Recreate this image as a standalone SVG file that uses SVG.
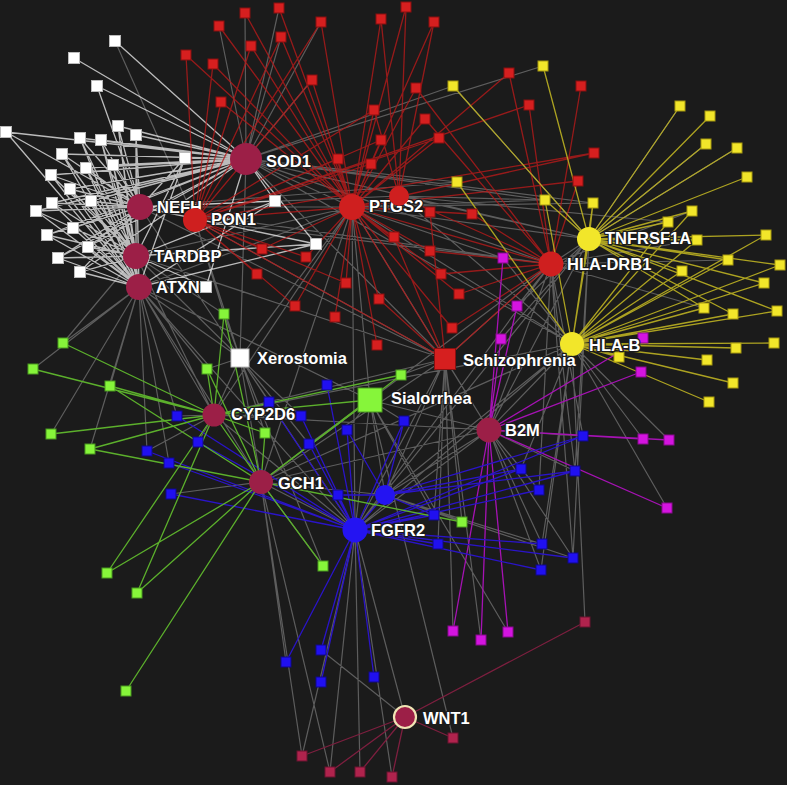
<svg xmlns="http://www.w3.org/2000/svg" xmlns:xlink="http://www.w3.org/1999/xlink" width="787" height="785" viewBox="0 0 787 785">
<style>
.e{fill:none;stroke-width:1.3}
.ew{stroke:#ffffff;stroke-opacity:0.7}
.er{stroke:#b51a1a;stroke-opacity:0.8}
.ey{stroke:#bdb122;stroke-opacity:0.9}
.em{stroke:#a612b4}
.eb{stroke:#2a14c8}
.eg{stroke:#5cb02c}
.ek{stroke:#7d1f3f}
.egr{stroke:#a0a0a0;stroke-opacity:0.5;stroke-width:1.2}
.hc{fill:#9c1f47}
.hr{fill:#cf1f1f}
.hy{fill:#f2e62a}
.hb{fill:#2414f2}
.lb{font-family:"Liberation Sans",Arial,sans-serif;font-weight:bold;font-size:16.5px;fill:#ffffff;stroke:#1b1b1b;stroke-width:2.5px;paint-order:stroke;stroke-linejoin:round}
</style>
<defs>
<rect id="sw" x="-5.5" y="-5.5" width="11" height="11" fill="#ffffff" stroke="#bbbbbb" stroke-width="1"/>
<rect id="sr" x="-5" y="-5" width="10" height="10" fill="#d61f1f" stroke="#8a1010" stroke-width="1"/>
<rect id="sy" x="-5" y="-5" width="10" height="10" fill="#f2e62a" stroke="#a89a10" stroke-width="1"/>
<rect id="sm" x="-5" y="-5" width="10" height="10" fill="#d414e0" stroke="#8a0a90" stroke-width="1"/>
<rect id="sb" x="-5" y="-5" width="10" height="10" fill="#2010f0" stroke="#10088a" stroke-width="1"/>
<rect id="sg" x="-5" y="-5" width="10" height="10" fill="#86f53a" stroke="#4a9a20" stroke-width="1"/>
<rect id="sk" x="-5" y="-5" width="10" height="10" fill="#b0234d" stroke="#6a1530" stroke-width="1"/>
</defs>
<rect x="0" y="0" width="787" height="785" fill="#1b1b1b"/>
<g id="connectors">
<path class="e egr" d="M246 159L352 207M246 159L551 264M246 159L589 239M246 159L240 358M246 159L445 359M246 159L453 86M246 159L457 182M246 159L543 66M246 159L245 13M246 159L279 8M246 159L219 26M246 159L321 22M246 159L281 37M246 159L312 80M246 159L572 344M246 159L593 203M246 159L545 200
M140 207L352 207M140 207L240 358M140 207L551 264M140 207L445 359M140 207L457 182M140 207L399 196M115 41L195 220
M136 256L240 358M136 256L445 359M136 256L352 207M136 256L214 415M136 256L63 343M136 256L224 314
M139 287L240 358M139 287L214 415M139 287L261 482M139 287L355 530M139 287L63 343M139 287L110 386M139 287L51 434M139 287L90 449M139 287L33 369M139 287L177 416M139 287L147 451M139 287L169 463M139 287L370 400M139 287L207 369M139 287L352 207
M195 220L240 358M195 220L445 359M195 220L551 264M195 220L224 314
M352 207L572 344M352 207L489 430M352 207L355 530M352 207L261 482M352 207L214 415M352 207L370 400M352 207L240 358M352 207L589 239M352 207L593 203M352 207L545 200M352 207L503 258
M399 196L572 344M399 196L589 239M399 196L545 200M399 196L668 222
M551 264L489 430M551 264L355 530M551 264L370 400M551 264L261 482M551 264L445 359M551 264L503 258M551 264L517 306M551 264L583 436M551 264L575 471M551 264L539 490M551 264L573 558M551 264L692 211M551 264L697 240M551 264L704 308M551 264L728 260
M572 344L489 430M572 344L355 530M572 344L385 495M572 344L214 415M572 344L261 482M572 344L643 439M572 344L669 440M572 344L667 508M572 344L585 622M572 344L542 544M572 344L541 570M572 344L521 469M572 344L503 258
M589 239L489 430M589 239L355 530M589 239L453 86M589 239L680 106M589 239L706 144M589 239L737 148M589 239L501 339M589 239L517 306M589 239L575 471M589 239L573 558M589 239L551 264
M240 358L214 415M240 358L261 482M240 358L355 530M240 358L224 314M240 358L207 369M240 358L265 433M240 358L301 416M240 358L309 444M240 358L269 402M240 358L323 566
M445 359L489 430M445 359L355 530M445 359L261 482M445 359L214 415M445 359L385 495M445 359L401 375M445 359L434 515M445 359L438 544M445 359L462 522M445 359L453 631M445 359L481 640
M370 400L261 482M370 400L489 430M370 400L355 530M370 400L385 495M370 400L347 430M370 400L404 421M370 400L309 444M370 400L434 515M370 400L508 632M370 400L453 738
M489 430L355 530M489 430L261 482M489 430L214 415M489 430L385 495M489 430L583 436M489 430L575 471M489 430L539 490M489 430L541 570M489 430L573 558M489 430L542 544
M214 415L355 530M214 415L177 416M214 415L198 442M214 415L147 451M214 415L269 402M214 415L301 416
M261 482L355 530M261 482L385 495M261 482L302 756M261 482L330 772M261 482L323 566M261 482L171 494M261 482L286 662
M355 530L405 717M355 530L302 756M355 530L330 772M355 530L360 772M355 530L392 777M321 650L405 717
M385 495L462 522M385 495L542 544M385 495L573 558"/>
<path class="e ew" d="M115 41L246 159M74 58L246 159M97 86L246 159M6 132L246 159M118 126L246 159M136 135L246 159M80 138L246 159M101 140L246 159M62 154L246 159M185 158L246 159M113 165L246 159M86 168L246 159M51 175L246 159M70 189L246 159M36 211L246 159M52 203L246 159M91 201L246 159M73 228L246 159M47 235L246 159M88 247L246 159M58 258L246 159M80 272L246 159M275 201L246 159M316 244L246 159M206 287L246 159
M97 86L140 207M6 132L140 207M118 126L140 207M136 135L140 207M80 138L140 207M101 140L140 207M62 154L140 207M185 158L140 207M113 165L140 207M86 168L140 207M51 175L140 207M70 189L140 207M36 211L140 207M52 203L140 207M91 201L140 207M73 228L140 207M47 235L140 207M88 247L140 207M58 258L140 207M80 272L140 207M275 201L140 207M316 244L140 207
M118 126L136 256M136 135L136 256M80 138L136 256M101 140L136 256M62 154L136 256M185 158L136 256M113 165L136 256M86 168L136 256M51 175L136 256M70 189L136 256M36 211L136 256M52 203L136 256M91 201L136 256M73 228L136 256M47 235L136 256M88 247L136 256M58 258L136 256M80 272L136 256M275 201L136 256M316 244L136 256M206 287L136 256
M6 132L139 287M118 126L139 287M136 135L139 287M80 138L139 287M101 140L139 287M62 154L139 287M185 158L139 287M113 165L139 287M86 168L139 287M51 175L139 287M70 189L139 287M36 211L139 287M52 203L139 287M91 201L139 287M73 228L139 287M47 235L139 287M88 247L139 287M58 258L139 287M80 272L139 287M275 201L139 287M316 244L139 287"/>
<path class="e er" d="M245 13L352 207M219 26L352 207M251 46L352 207M251 46L195 220M186 55L195 220M186 55L352 207M213 64L195 220M213 64L352 207M221 102L195 220M221 102L352 207M279 8L352 207M321 22L352 207M321 22L195 220M381 19L352 207M381 19L399 196M406 7L352 207M406 7L399 196M434 22L352 207M434 22L399 196M281 37L352 207M281 37L195 220M312 80L352 207M312 80L195 220M509 73L551 264M509 73L352 207M416 88L352 207M416 88L551 264M374 110L352 207M374 110L195 220M374 110L399 196M425 119L352 207M425 119L551 264M381 140L352 207M381 140L195 220M439 138L352 207M439 138L195 220M338 159L195 220M338 159L352 207M371 164L352 207M371 164L195 220M529 105L551 264M529 105L195 220M581 86L551 264M594 153L352 207M594 153L195 220M578 181L352 207M578 181L551 264M430 212L352 207M430 212L445 359M472 214L352 207M472 214L551 264M394 237L352 207M394 237L445 359M430 251L352 207M430 251L551 264M306 257L352 207M306 257L195 220M441 274L352 207M441 274L551 264M346 283L352 207M346 283L195 220M459 294L352 207M459 294L551 264M379 299L352 207M379 299L445 359M295 306L352 207M295 306L195 220M335 317L352 207M452 328L352 207M452 328L551 264M377 345L352 207M262 249L195 220M262 249L352 207M257 274L195 220M445 359L352 207M445 359L551 264M445 359L195 220M195 220L352 207M399 196L551 264M352 207L551 264"/>
<path class="e ey" d="M453 86L589 239M543 66L589 239M593 203L589 239M545 200L589 239M680 106L589 239M710 116L589 239M706 144L589 239M737 148L589 239M747 177L589 239M692 211L589 239M668 222L589 239M697 240L589 239M766 235L589 239M728 260L589 239M682 271L589 239M780 265L589 239M764 283L589 239M704 308L589 239M733 314L589 239M777 311L589 239
M545 200L572 344M593 203L572 344M692 211L572 344M668 222L572 344M697 240L572 344M728 260L572 344M682 271L572 344M766 235L572 344M780 265L572 344M764 283L572 344M704 308L572 344M733 314L572 344M777 311L572 344M774 343L572 344M736 348L572 344M707 360L572 344M733 383L572 344M619 357L572 344M709 402L572 344M457 182L572 344M589 239L572 344"/>
<path class="e em" d="M503 258L489 430M517 306L489 430M501 339L489 430M643 338L489 430M641 372L489 430M643 439L489 430M669 440L489 430M667 508L489 430M453 631L489 430M481 640L489 430M508 632L489 430"/>
<path class="e eb" d="M177 416L355 530M147 451L355 530M198 442L355 530M169 463L355 530M171 494L355 530M269 402L355 530M301 416L355 530M347 430L355 530M404 421L355 530M309 444L355 530M338 495L355 530M434 515L355 530M438 544L355 530M327 385L355 530M583 436L355 530M575 471L355 530M539 490L355 530M542 544L355 530M573 558L355 530M541 570L355 530M521 469L355 530M286 662L355 530M321 650L355 530M321 682L355 530M374 677L355 530M385 495L355 530
M404 421L385 495M583 436L385 495M521 469L385 495M434 515L385 495M338 495L385 495M575 471L385 495M347 430L385 495"/>
<path class="e eg" d="M224 314L214 415M63 343L214 415M33 369L214 415M110 386L214 415M207 369L214 415M401 375L214 415M51 434L214 415M90 449L214 415M265 433L214 415M107 573L214 415M137 593L214 415M370 400L214 415
M224 314L261 482M207 369L261 482M90 449L261 482M265 433L261 482M107 573L261 482M137 593L261 482M126 691L261 482M323 566L261 482M462 522L261 482M370 400L261 482M110 386L261 482M401 375L261 482M214 415L261 482"/>
<path class="e ek" d="M302 756L405 717M330 772L405 717M360 772L405 717M392 777L405 717M453 738L405 717M585 622L405 717"/>
</g>
<g id="small-nodes">
<g id="w1"><use xlink:href="#sw" x="115" y="41"/></g>
<g id="w2"><use xlink:href="#sw" x="74" y="58"/></g>
<g id="w3"><use xlink:href="#sw" x="97" y="86"/></g>
<g id="w4"><use xlink:href="#sw" x="6" y="132"/></g>
<g id="w5"><use xlink:href="#sw" x="118" y="126"/></g>
<g id="w6"><use xlink:href="#sw" x="136" y="135"/></g>
<g id="w7"><use xlink:href="#sw" x="80" y="138"/></g>
<g id="w8"><use xlink:href="#sw" x="101" y="140"/></g>
<g id="w9"><use xlink:href="#sw" x="62" y="154"/></g>
<g id="w10"><use xlink:href="#sw" x="185" y="158"/></g>
<g id="w11"><use xlink:href="#sw" x="113" y="165"/></g>
<g id="w12"><use xlink:href="#sw" x="86" y="168"/></g>
<g id="w13"><use xlink:href="#sw" x="51" y="175"/></g>
<g id="w14"><use xlink:href="#sw" x="70" y="189"/></g>
<g id="w15"><use xlink:href="#sw" x="36" y="211"/></g>
<g id="w16"><use xlink:href="#sw" x="52" y="203"/></g>
<g id="w17"><use xlink:href="#sw" x="91" y="201"/></g>
<g id="w18"><use xlink:href="#sw" x="73" y="228"/></g>
<g id="w19"><use xlink:href="#sw" x="47" y="235"/></g>
<g id="w20"><use xlink:href="#sw" x="88" y="247"/></g>
<g id="w21"><use xlink:href="#sw" x="58" y="258"/></g>
<g id="w22"><use xlink:href="#sw" x="80" y="272"/></g>
<g id="w23"><use xlink:href="#sw" x="275" y="201"/></g>
<g id="w24"><use xlink:href="#sw" x="316" y="244"/></g>
<g id="w25"><use xlink:href="#sw" x="206" y="287"/></g>
<g id="r1"><use xlink:href="#sr" x="245" y="13"/></g>
<g id="r2"><use xlink:href="#sr" x="219" y="26"/></g>
<g id="r3"><use xlink:href="#sr" x="251" y="46"/></g>
<g id="r4"><use xlink:href="#sr" x="186" y="55"/></g>
<g id="r5"><use xlink:href="#sr" x="213" y="64"/></g>
<g id="r6"><use xlink:href="#sr" x="221" y="102"/></g>
<g id="r7"><use xlink:href="#sr" x="279" y="8"/></g>
<g id="r8"><use xlink:href="#sr" x="321" y="22"/></g>
<g id="r9"><use xlink:href="#sr" x="381" y="19"/></g>
<g id="r10"><use xlink:href="#sr" x="406" y="7"/></g>
<g id="r11"><use xlink:href="#sr" x="434" y="22"/></g>
<g id="r12"><use xlink:href="#sr" x="281" y="37"/></g>
<g id="r13"><use xlink:href="#sr" x="312" y="80"/></g>
<g id="r14"><use xlink:href="#sr" x="509" y="73"/></g>
<g id="r15"><use xlink:href="#sr" x="416" y="88"/></g>
<g id="r16"><use xlink:href="#sr" x="374" y="110"/></g>
<g id="r17"><use xlink:href="#sr" x="425" y="119"/></g>
<g id="r18"><use xlink:href="#sr" x="381" y="140"/></g>
<g id="r19"><use xlink:href="#sr" x="439" y="138"/></g>
<g id="r20"><use xlink:href="#sr" x="338" y="159"/></g>
<g id="r21"><use xlink:href="#sr" x="371" y="164"/></g>
<g id="r22"><use xlink:href="#sr" x="529" y="105"/></g>
<g id="r23"><use xlink:href="#sr" x="581" y="86"/></g>
<g id="r24"><use xlink:href="#sr" x="594" y="153"/></g>
<g id="r25"><use xlink:href="#sr" x="578" y="181"/></g>
<g id="r26"><use xlink:href="#sr" x="430" y="212"/></g>
<g id="r27"><use xlink:href="#sr" x="472" y="214"/></g>
<g id="r28"><use xlink:href="#sr" x="394" y="237"/></g>
<g id="r29"><use xlink:href="#sr" x="430" y="251"/></g>
<g id="r30"><use xlink:href="#sr" x="306" y="257"/></g>
<g id="r31"><use xlink:href="#sr" x="441" y="274"/></g>
<g id="r32"><use xlink:href="#sr" x="346" y="283"/></g>
<g id="r33"><use xlink:href="#sr" x="459" y="294"/></g>
<g id="r34"><use xlink:href="#sr" x="379" y="299"/></g>
<g id="r35"><use xlink:href="#sr" x="295" y="306"/></g>
<g id="r36"><use xlink:href="#sr" x="335" y="317"/></g>
<g id="r37"><use xlink:href="#sr" x="452" y="328"/></g>
<g id="r38"><use xlink:href="#sr" x="377" y="345"/></g>
<g id="r39"><use xlink:href="#sr" x="262" y="249"/></g>
<g id="r40"><use xlink:href="#sr" x="257" y="274"/></g>
<g id="y1"><use xlink:href="#sy" x="453" y="86"/></g>
<g id="y2"><use xlink:href="#sy" x="457" y="182"/></g>
<g id="y3"><use xlink:href="#sy" x="543" y="66"/></g>
<g id="y4"><use xlink:href="#sy" x="680" y="106"/></g>
<g id="y5"><use xlink:href="#sy" x="710" y="116"/></g>
<g id="y6"><use xlink:href="#sy" x="706" y="144"/></g>
<g id="y7"><use xlink:href="#sy" x="737" y="148"/></g>
<g id="y8"><use xlink:href="#sy" x="747" y="177"/></g>
<g id="y9"><use xlink:href="#sy" x="545" y="200"/></g>
<g id="y10"><use xlink:href="#sy" x="593" y="203"/></g>
<g id="y11"><use xlink:href="#sy" x="692" y="211"/></g>
<g id="y12"><use xlink:href="#sy" x="668" y="222"/></g>
<g id="y13"><use xlink:href="#sy" x="697" y="240"/></g>
<g id="y14"><use xlink:href="#sy" x="766" y="235"/></g>
<g id="y15"><use xlink:href="#sy" x="728" y="260"/></g>
<g id="y16"><use xlink:href="#sy" x="682" y="271"/></g>
<g id="y17"><use xlink:href="#sy" x="780" y="265"/></g>
<g id="y18"><use xlink:href="#sy" x="764" y="283"/></g>
<g id="y19"><use xlink:href="#sy" x="704" y="308"/></g>
<g id="y20"><use xlink:href="#sy" x="733" y="314"/></g>
<g id="y21"><use xlink:href="#sy" x="777" y="311"/></g>
<g id="y22"><use xlink:href="#sy" x="774" y="343"/></g>
<g id="y23"><use xlink:href="#sy" x="736" y="348"/></g>
<g id="y24"><use xlink:href="#sy" x="707" y="360"/></g>
<g id="y25"><use xlink:href="#sy" x="733" y="383"/></g>
<g id="y26"><use xlink:href="#sy" x="619" y="357"/></g>
<g id="y27"><use xlink:href="#sy" x="709" y="402"/></g>
<g id="m1"><use xlink:href="#sm" x="503" y="258"/></g>
<g id="m2"><use xlink:href="#sm" x="517" y="306"/></g>
<g id="m3"><use xlink:href="#sm" x="501" y="339"/></g>
<g id="m4"><use xlink:href="#sm" x="643" y="338"/></g>
<g id="m5"><use xlink:href="#sm" x="641" y="372"/></g>
<g id="m6"><use xlink:href="#sm" x="643" y="439"/></g>
<g id="m7"><use xlink:href="#sm" x="669" y="440"/></g>
<g id="m8"><use xlink:href="#sm" x="667" y="508"/></g>
<g id="m9"><use xlink:href="#sm" x="453" y="631"/></g>
<g id="m10"><use xlink:href="#sm" x="481" y="640"/></g>
<g id="m11"><use xlink:href="#sm" x="508" y="632"/></g>
<g id="b1"><use xlink:href="#sb" x="177" y="416"/></g>
<g id="b2"><use xlink:href="#sb" x="147" y="451"/></g>
<g id="b3"><use xlink:href="#sb" x="198" y="442"/></g>
<g id="b4"><use xlink:href="#sb" x="169" y="463"/></g>
<g id="b5"><use xlink:href="#sb" x="171" y="494"/></g>
<g id="b6"><use xlink:href="#sb" x="269" y="402"/></g>
<g id="b7"><use xlink:href="#sb" x="301" y="416"/></g>
<g id="b8"><use xlink:href="#sb" x="347" y="430"/></g>
<g id="b9"><use xlink:href="#sb" x="404" y="421"/></g>
<g id="b10"><use xlink:href="#sb" x="309" y="444"/></g>
<g id="b11"><use xlink:href="#sb" x="338" y="495"/></g>
<g id="b12"><use xlink:href="#sb" x="434" y="515"/></g>
<g id="b13"><use xlink:href="#sb" x="438" y="544"/></g>
<g id="b14"><use xlink:href="#sb" x="327" y="385"/></g>
<g id="b15"><use xlink:href="#sb" x="583" y="436"/></g>
<g id="b16"><use xlink:href="#sb" x="575" y="471"/></g>
<g id="b17"><use xlink:href="#sb" x="539" y="490"/></g>
<g id="b18"><use xlink:href="#sb" x="542" y="544"/></g>
<g id="b19"><use xlink:href="#sb" x="573" y="558"/></g>
<g id="b20"><use xlink:href="#sb" x="541" y="570"/></g>
<g id="b21"><use xlink:href="#sb" x="521" y="469"/></g>
<g id="b22"><use xlink:href="#sb" x="286" y="662"/></g>
<g id="b23"><use xlink:href="#sb" x="321" y="650"/></g>
<g id="b24"><use xlink:href="#sb" x="321" y="682"/></g>
<g id="b25"><use xlink:href="#sb" x="374" y="677"/></g>
<g id="g1"><use xlink:href="#sg" x="224" y="314"/></g>
<g id="g2"><use xlink:href="#sg" x="63" y="343"/></g>
<g id="g3"><use xlink:href="#sg" x="33" y="369"/></g>
<g id="g4"><use xlink:href="#sg" x="110" y="386"/></g>
<g id="g5"><use xlink:href="#sg" x="207" y="369"/></g>
<g id="g6"><use xlink:href="#sg" x="401" y="375"/></g>
<g id="g7"><use xlink:href="#sg" x="51" y="434"/></g>
<g id="g8"><use xlink:href="#sg" x="90" y="449"/></g>
<g id="g9"><use xlink:href="#sg" x="265" y="433"/></g>
<g id="g10"><use xlink:href="#sg" x="107" y="573"/></g>
<g id="g11"><use xlink:href="#sg" x="462" y="522"/></g>
<g id="g12"><use xlink:href="#sg" x="323" y="566"/></g>
<g id="g13"><use xlink:href="#sg" x="137" y="593"/></g>
<g id="g14"><use xlink:href="#sg" x="126" y="691"/></g>
<g id="k1"><use xlink:href="#sk" x="302" y="756"/></g>
<g id="k2"><use xlink:href="#sk" x="330" y="772"/></g>
<g id="k3"><use xlink:href="#sk" x="360" y="772"/></g>
<g id="k4"><use xlink:href="#sk" x="392" y="777"/></g>
<g id="k5"><use xlink:href="#sk" x="453" y="738"/></g>
<g id="k6"><use xlink:href="#sk" x="585" y="622"/></g>
</g>
<g id="SOD1"><circle class="hc" cx="246" cy="159" r="16"/><text class="lb" x="266" y="167">SOD1</text></g>
<g id="NEFH"><circle class="hc" cx="140" cy="207" r="13"/><text class="lb" x="157" y="213">NEFH</text></g>
<g id="PON1"><circle class="hr" cx="195" cy="220" r="12"/><text class="lb" x="211" y="225">PON1</text></g>
<g id="PTGS2"><circle class="hr" cx="352" cy="207" r="13"/><text class="lb" x="369" y="212">PTGS2</text></g>
<g id="red-hub"><circle class="hr" cx="399" cy="196" r="10"/></g>
<g id="TARDBP"><circle class="hc" cx="136" cy="256" r="13"/><text class="lb" x="154" y="262">TARDBP</text></g>
<g id="ATXN"><circle class="hc" cx="139" cy="287" r="13"/><text class="lb" x="156" y="293">ATXN</text></g>
<g id="TNFRSF1A"><circle class="hy" cx="589" cy="239" r="12"/><text class="lb" x="605" y="244">TNFRSF1A</text></g>
<g id="HLA-DRB1"><circle class="hr" cx="551" cy="264" r="12.5"/><text class="lb" x="567" y="270">HLA-DRB1</text></g>
<g id="HLA-B"><circle class="hy" cx="572" cy="344" r="12"/><text class="lb" x="589" y="351">HLA-B</text></g>
<g id="Xerostomia"><rect x="231" y="349" width="18" height="18" fill="#ffffff" stroke="#bbbbbb"/><text class="lb" x="257" y="364">Xerostomia</text></g>
<g id="Schizophrenia"><rect x="434.5" y="348.5" width="21" height="21" fill="#d61f1f" stroke="#8a1010"/><text class="lb" x="463" y="366">Schizophrenia</text></g>
<g id="Sialorrhea"><rect x="358" y="388" width="24" height="24" fill="#86f53a" stroke="#4a9a20"/><text class="lb" x="391" y="404">Sialorrhea</text></g>
<g id="CYP2D6"><circle class="hc" cx="214" cy="415" r="11.5"/><text class="lb" x="231" y="420">CYP2D6</text></g>
<g id="B2M"><circle class="hc" cx="489" cy="430" r="12.5"/><text class="lb" x="505" y="436">B2M</text></g>
<g id="GCH1"><circle class="hc" cx="261" cy="482" r="12"/><text class="lb" x="278" y="489">GCH1</text></g>
<g id="blue-hub"><circle class="hb" cx="385" cy="495" r="10"/></g>
<g id="FGFR2"><circle class="hb" cx="355" cy="530" r="12.5"/><text class="lb" x="371" y="536">FGFR2</text></g>
<g id="WNT1"><circle class="hc" cx="405" cy="717" r="11" stroke="#f0e4b4" stroke-width="2.2"/><text class="lb" x="423" y="724">WNT1</text></g>
</svg>
